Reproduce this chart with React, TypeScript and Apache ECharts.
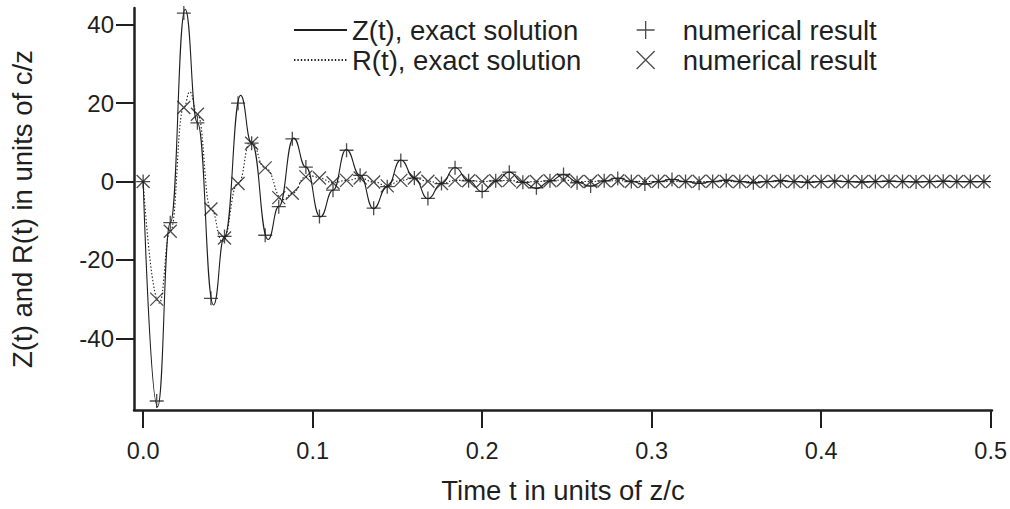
import React, { useEffect, useRef } from 'react';
import * as echarts from 'echarts';

// Sample times of the numerical results (time in units of z/c)
const sampleTimes = [
  0, 0.008, 0.016, 0.024, 0.032, 0.04, 0.048, 0.056, 0.064, 0.072,
  0.08, 0.088, 0.096, 0.104, 0.112, 0.12, 0.128, 0.136, 0.144, 0.152,
  0.16, 0.168, 0.176, 0.184, 0.192, 0.2, 0.208, 0.216, 0.224, 0.232,
  0.24, 0.248, 0.256, 0.264, 0.272, 0.28, 0.288, 0.296, 0.304, 0.312,
  0.32, 0.328, 0.336, 0.344, 0.352, 0.36, 0.368, 0.376, 0.384, 0.392,
  0.4, 0.408, 0.416, 0.424, 0.432, 0.44, 0.448, 0.456, 0.464, 0.472,
  0.48, 0.488, 0.496,
];

// Numerical result for Z(t) (+ markers)
const zNumerical = [
  0, -56, -10.5, 43, 15, -29.8, -14, 20, 9.8, -13.7,
  -6.4, 10.9, 3.7, -8.9, -2.2, 8, 1.6, -6.8, -1.3, 5.4,
  0.9, -4.3, -0.5, 3.5, 0.2, -2.5, 0.2, 2.4, -0.2, -1.6,
  0.2, 1.8, -0.3, -1.1, 0.2, 0.8, 0, -0.6, 0, 0.5,
  0, -0.4, 0, 0.3, 0, -0.3, 0, 0.2, 0, -0.2,
  0, 0.1, 0, -0.1, 0, 0.1, 0, -0.1, 0, 0.1,
  0, 0, 0,
];

// Numerical result for R(t) (x markers)
const rNumerical = [
  0, -30, -12.7, 18.9, 17.2, -7.0, -14.4, -0.5, 9.8, 3.5,
  -4.1, -3.0, 1.2, 0.9, -0.3, 0.3, 0.9, -0.1, -1.1, 0.3,
  0.9, 0.1, -0.5, 0.3, 0.2, 0, 0.2, 0.3, -0.1, 0,
  0.2, 0.4, 0, 0, 0.2, 0.2, 0, 0.1, 0.1, 0,
  0, 0.1, 0.1, 0, 0, 0.1, 0, 0, 0, 0,
  0, 0, 0, 0, 0, 0, 0, 0, 0, 0,
  0, 0, 0,
];

// Exact solution Z(t)
const zExact = [
  [0, 0], [0.0085, -57.5], [0.016, -10.5], [0.0248, 44], [0.032, 15],
  [0.0415, -31.5], [0.048, -14], [0.0575, 22], [0.064, 9.8], [0.0737, -14.8],
  [0.08, -6.4], [0.0888, 11.1], [0.096, 3.7], [0.1045, -9.0], [0.112, -2.2],
  [0.1198, 8.2], [0.128, 1.6], [0.1358, -6.9], [0.144, -1.3], [0.152, 5.5],
  [0.16, 0.9], [0.168, -4.4], [0.176, -0.5], [0.184, 3.6], [0.192, 0.2],
  [0.2, -2.6], [0.208, 0.1], [0.216, 2.4], [0.224, -0.1], [0.232, -1.8],
  [0.24, 0.1], [0.248, 1.8], [0.256, -0.1], [0.264, -1.2], [0.272, 0.1],
  [0.28, 0.9], [0.288, 0], [0.296, -0.7], [0.304, 0], [0.312, 0.6],
  [0.32, 0], [0.328, -0.5], [0.336, 0], [0.344, 0.4], [0.352, 0],
  [0.36, -0.3], [0.368, 0], [0.376, 0.3], [0.384, 0], [0.392, -0.2],
  [0.4, 0], [0.408, 0.2], [0.416, 0], [0.424, -0.15], [0.432, 0],
  [0.44, 0.1], [0.448, 0], [0.456, -0.1], [0.464, 0], [0.472, 0.1],
  [0.48, 0], [0.488, -0.05], [0.496, 0], [0.5, 0],
];

// Exact solution R(t)
const rExact = [
  [0, 0], [0.0095, -31], [0.016, -12.7], [0.024, 18.9], [0.0275, 22.9],
  [0.032, 17.2], [0.04, -7.0], [0.0468, -15.3], [0.056, -0.5], [0.0635, 10.4],
  [0.072, 3.5], [0.0825, -4.6], [0.088, -3.0], [0.096, 1.2], [0.1, 1.4],
  [0.104, 0.9], [0.112, -0.3], [0.12, 0.3], [0.128, 0.9], [0.136, -0.1],
  [0.144, -1.1], [0.152, 0.3], [0.16, 0.9], [0.168, 0.1], [0.176, -0.5],
  [0.184, 0.3], [0.192, 0.3], [0.2, 0], [0.208, 0.2], [0.216, 0.3],
  [0.224, -0.1], [0.232, 0], [0.24, 0.2], [0.248, 0.4], [0.256, 0],
  [0.264, 0], [0.272, 0.2], [0.28, 0.2], [0.3, 0], [0.35, 0],
  [0.4, 0], [0.45, 0], [0.5, 0],
];

const xTicks = [0, 0.1, 0.2, 0.3, 0.4, 0.5];
const yTicks = [-40, -20, 0, 20, 40];

const zExactName = 'Z(t), exact solution';
const rExactName = 'R(t), exact solution';
const zNumName = 'numerical result (Z)';
const rNumName = 'numerical result (R)';

const INK = '#1f1f1f';
const FONT = '"Liberation Sans", Arial, Helvetica, sans-serif';
const PLUS = 'path://M0,6L12,6M6,0L6,12';
const CROSS = 'path://M0,0L12,12M12,0L0,12';

export default function App() {
  const ref = useRef<HTMLDivElement>(null);

  useEffect(() => {
    if (!ref.current) return;
    const chart = echarts.init(ref.current, null, { renderer: 'svg' });
    const bigText = { color: INK, fontFamily: FONT, fontSize: 27.5 };

    chart.setOption({
      animation: false,
      backgroundColor: '#ffffff',
      grid: { left: 131, right: 17, top: 8, bottom: 95, containLabel: false },
      legend: [
        {
          orient: 'vertical',
          left: 288,
          top: 11,
          itemWidth: 53,
          itemHeight: 14,
          itemGap: 2,
          selectedMode: false,
          data: [zExactName, rExactName],
          itemStyle: { color: 'transparent', borderWidth: 0, opacity: 0 },
          textStyle: { ...bigText, lineHeight: 28 },
        },
        {
          orient: 'vertical',
          left: 631,
          top: 11,
          itemWidth: 64,
          itemHeight: 18,
          itemGap: 2,
          selectedMode: false,
          symbolKeepAspect: true,
          data: [zNumName, rNumName],
          formatter: () => 'numerical result',
          itemStyle: { color: 'transparent', borderColor: INK, borderWidth: 1.3 },
          textStyle: { ...bigText, lineHeight: 28 },
        },
      ],
      xAxis: {
        type: 'value',
        min: -0.0054,
        max: 0.5008,
        name: 'Time t in units of z/c',
        nameLocation: 'middle',
        nameGap: 66,
        nameTextStyle: { ...bigText },
        axisLine: { onZero: false, lineStyle: { color: INK, width: 2.5 } },
        axisTick: { customValues: xTicks, length: 18, lineStyle: { color: INK, width: 2 } },
        axisLabel: {
          customValues: xTicks,
          margin: 29,
          formatter: (v: number) => v.toFixed(1),
          color: INK,
          fontFamily: FONT,
          fontSize: 23.5,
        },
        splitLine: { show: false },
      },
      yAxis: {
        type: 'value',
        min: -58.3,
        max: 44.3,
        name: 'Z(t) and R(t) in units of c/z',
        nameLocation: 'middle',
        nameGap: 98,
        nameTextStyle: { ...bigText },
        axisLine: { show: true, onZero: false, lineStyle: { color: INK, width: 2.5 } },
        axisTick: { show: true, customValues: yTicks, length: 18, lineStyle: { color: INK, width: 2 } },
        axisLabel: { customValues: yTicks, margin: 20, color: INK, fontFamily: FONT, fontSize: 24 },
        splitLine: { show: false },
      },
      series: [
        {
          name: zExactName,
          type: 'line',
          data: zExact,
          smooth: 0.5,
          smoothMonotone: 'x',
          symbol: 'none',
          lineStyle: { color: INK, width: 1.1, type: 'solid' },
          itemStyle: { color: INK },
          z: 2,
        },
        {
          name: rExactName,
          type: 'line',
          data: rExact,
          smooth: 0.5,
          smoothMonotone: 'x',
          symbol: 'none',
          lineStyle: { color: INK, width: 1.1, type: [1.4, 2] },
          itemStyle: { color: INK },
          z: 2,
        },
        {
          name: zNumName,
          type: 'scatter',
          data: sampleTimes.map((t, i) => [t, zNumerical[i]]),
          symbol: PLUS,
          symbolSize: 14,
          symbolKeepAspect: true,
          itemStyle: { color: 'transparent', borderColor: INK, borderWidth: 1.3 },
          z: 3,
        },
        {
          name: rNumName,
          type: 'scatter',
          data: sampleTimes.map((t, i) => [t, rNumerical[i]]),
          symbol: CROSS,
          symbolSize: 13,
          symbolKeepAspect: true,
          itemStyle: { color: 'transparent', borderColor: INK, borderWidth: 1.3 },
          z: 3,
        },
      ],
    });

    return () => chart.dispose();
  }, []);

  return (
    <div
      ref={ref}
      style={{ position: 'fixed', left: 0, top: 0, width: 1010, height: 509, background: '#fff' }}
    />
  );
}
